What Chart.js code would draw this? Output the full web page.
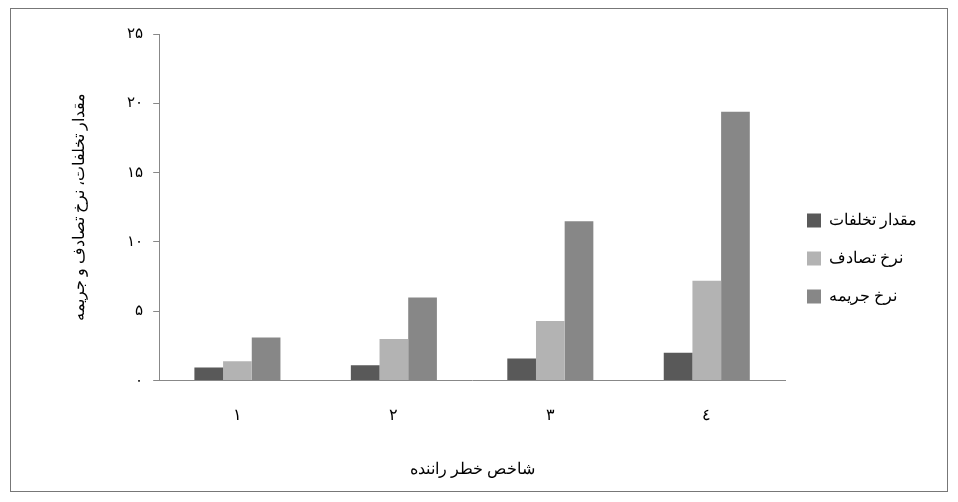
<!DOCTYPE html>
<html><head><meta charset="utf-8">
<script src="https://cdn.jsdelivr.net/npm/chart.js@4"></script>
<style>
html,body{margin:0;background:#fff}
#wrap{position:absolute;left:10px;top:8px;width:938px;height:484px;border:1px solid #777;box-sizing:border-box}
</style></head><body>
<div id="wrap"><canvas id="c"></canvas></div>
<script>
const categories = ['۱', '۲', '۳', '٤'];
const violations = [0.95, 1.1, 1.6, 2.0];
const accidents = [1.4, 3.0, 4.3, 7.2];
const fines = [3.1, 6.0, 11.5, 19.4];
const yTicks = ['۰', '۵', '۱۰', '۱۵', '۲۰', '۲۵'];
const F = "'Liberation Serif','DejaVu Serif',serif";

new Chart(document.getElementById('c'), {
  type: 'bar',
  data: {
    labels: categories,
    datasets: [
      { label: 'مقدار تخلفات', data: violations, backgroundColor: '#595959' },
      { label: 'نرخ تصادف', data: accidents, backgroundColor: '#b3b3b3' },
      { label: 'نرخ جریمه', data: fines, backgroundColor: '#878787' }
    ]
  },
  options: {
    responsive: true, maintainAspectRatio: false, animation: false,
    devicePixelRatio: 1,
    layout: { padding: { left: 55, top: 25, right: 20, bottom: 8 } },
    datasets: { bar: { categoryPercentage: 0.55, barPercentage: 1 } },
    plugins: {
      legend: {
        position: 'right',
        labels: { color: '#000', font: { family: F, size: 16 }, boxWidth: 14, boxHeight: 14, padding: 22 }
      },
      tooltip: { enabled: false }
    },
    scales: {
      x: {
        grid: { display: false },
        border: { color: '#888' },
        ticks: { color: '#000', font: { family: F, size: 16 }, padding: 18 },
        title: { display: true, text: 'شاخص خطر راننده', color: '#000', font: { family: F, size: 16 }, padding: { top: 16 } }
      },
      y: {
        min: 0, max: 25,
        grid: { drawOnChartArea: false, tickLength: 6, color: '#888' },
        border: { color: '#888' },
        ticks: { stepSize: 5, color: '#000', font: { family: F, size: 15 }, padding: 10,
          callback: (v, i) => yTicks[i] },
        afterFit: (s) => { s.width += 20; },
        title: { display: true, text: 'مقدار تخلفات، نرخ تصادف و جریمه', color: '#000', font: { family: F, size: 16 }, padding: { bottom: 8 } }
      }
    }
  }
});
</script>
</body></html>
